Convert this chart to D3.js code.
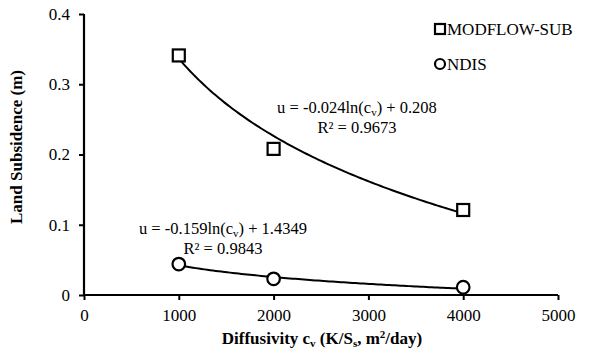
<!DOCTYPE html>
<html><head><meta charset="utf-8">
<script src="https://cdn.jsdelivr.net/npm/d3@7"></script>
<style>body{margin:0;background:#fff}svg{display:block}text{font-family:"Liberation Serif","Times New Roman",serif;fill:#000}</style>
</head><body><svg id="c" width="590" height="355"></svg>
<script>
const cv = [1000, 2000, 4000];
const modflow = [0.341, 0.208, 0.121];
const ndis = [0.044, 0.023, 0.011];
const xTicks = [0, 1000, 2000, 3000, 4000, 5000];
const yTicks = [0, 0.1, 0.2, 0.3, 0.4];
// trendline coefficients u = a ln(cv) + b
const fitModflow = {a: -0.159, b: 1.4349};
const fitNdis = {a: -0.024, b: 0.208};

const svg = d3.select("#c");
const x = d3.scaleLinear().domain([0, 5000]).range([84, 558]);
const y = d3.scaleLinear().domain([0, 0.4]).range([295, 14]);

const gx = svg.append("g").attr("transform", "translate(0,295)")
  .call(d3.axisBottom(x).tickValues(xTicks).tickSize(5).tickPadding(9).tickFormat(d3.format("d")));
const gy = svg.append("g").attr("transform", "translate(84,0)")
  .call(d3.axisLeft(y).tickValues(yTicks).tickSize(5).tickPadding(9).tickFormat(d => d === 0 ? "0" : d3.format(".1f")(d)));
[gx, gy].forEach(g => {
  g.select(".domain").attr("stroke", "#000").attr("stroke-width", 2.2);
  g.selectAll(".tick line").attr("stroke", "#000").attr("stroke-width", 2);
  g.selectAll(".tick text").attr("font-family", "Liberation Serif").attr("font-size", 17).attr("fill", "#000");
});
gx.select(".domain").attr("d", "M84,0H558");
gy.select(".domain").attr("d", "M0,14V295");
gx.selectAll(".tick text").attr("dy", "0.71em");

// trend curves
const line = d3.line().x(d => x(d[0])).y(d => y(d[1]));
function curve(f) {
  return d3.range(0, 101).map(i => {
    const c = cv[0] + (cv[cv.length - 1] - cv[0]) * i / 100;
    return [c, f.a * Math.log(c) + f.b];
  });
}
svg.append("path").attr("d", line(curve(fitModflow))).attr("fill", "none").attr("stroke", "#000").attr("stroke-width", 2);
svg.append("path").attr("d", line(curve(fitNdis))).attr("fill", "none").attr("stroke", "#000").attr("stroke-width", 2);

// markers
svg.selectAll(".sq").data(cv.map((c, i) => [c, modflow[i]])).enter().append("rect")
  .attr("x", d => x(d[0]) - 6).attr("y", d => y(d[1]) - 6).attr("width", 12).attr("height", 12)
  .attr("fill", "#fff").attr("stroke", "#000").attr("stroke-width", 2.2);
svg.selectAll(".ci").data(cv.map((c, i) => [c, ndis[i]])).enter().append("circle")
  .attr("cx", d => x(d[0])).attr("cy", d => y(d[1])).attr("r", 6.3)
  .attr("fill", "#fff").attr("stroke", "#000").attr("stroke-width", 2.2);

// legend
svg.append("rect").attr("x", 435).attr("y", 24).attr("width", 10).attr("height", 10)
  .attr("fill", "#fff").attr("stroke", "#000").attr("stroke-width", 2.2);
svg.append("text").attr("x", 447).attr("y", 35).attr("font-size", 17).text("MODFLOW-SUB");
svg.append("circle").attr("cx", 440).attr("cy", 64).attr("r", 5)
  .attr("fill", "#fff").attr("stroke", "#000").attr("stroke-width", 2.2);
svg.append("text").attr("x", 447).attr("y", 70).attr("font-size", 17).text("NDIS");

// equations
function eq(cx, by, a, b, r2) {
  const t = svg.append("text").attr("x", cx).attr("y", by).attr("font-size", 16.5).attr("text-anchor", "middle");
  t.append("tspan").text("u = " + a + "ln(c");
  t.append("tspan").attr("font-size", 11).attr("dy", 3).text("v");
  t.append("tspan").attr("dy", -3).text(") + " + b);
  svg.append("text").attr("x", cx).attr("y", by + 20).attr("font-size", 16.5).attr("text-anchor", "middle").text("R² = " + r2);
}
eq(357, 113, "-0.024", "0.208", "0.9673");
eq(223, 234, "-0.159", "1.4349", "0.9843");

// axis titles
const xt = svg.append("text").attr("x", 322).attr("y", 344).attr("font-size", 17).attr("font-weight", "bold").attr("text-anchor", "middle");
xt.append("tspan").text("Diffusivity c");
xt.append("tspan").attr("font-size", 11).attr("dy", 3).text("v");
xt.append("tspan").attr("dy", -3).text(" (K/S");
xt.append("tspan").attr("font-size", 11).attr("dy", 3).text("s");
xt.append("tspan").attr("dy", -3).text(", m");
xt.append("tspan").attr("font-size", 11).attr("dy", -6).text("2");
xt.append("tspan").attr("dy", 6).text("/day)");
svg.append("text").attr("transform", "translate(22,147) rotate(-90)").attr("font-size", 17)
  .attr("font-weight", "bold").attr("text-anchor", "middle").text("Land Subsidence (m)");
</script></body></html>
